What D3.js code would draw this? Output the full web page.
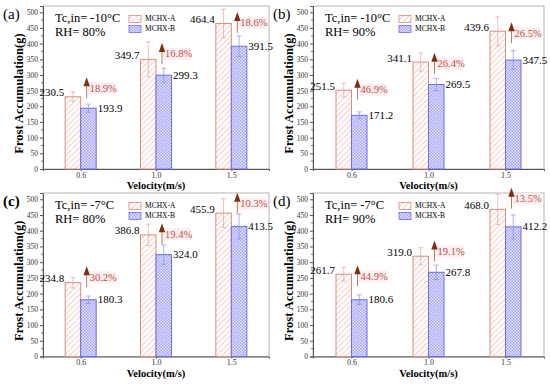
<!DOCTYPE html>
<html>
<head>
<meta charset="utf-8">
<script src="https://cdn.jsdelivr.net/npm/d3@7"></script>
<style>
  body { margin: 0; background: #fff; }
  svg text { font-family: "Liberation Serif", "Times New Roman", Times, Tinos, serif; }
</style>
</head>
<body>
<div id="chart"></div>
<script>
// data
var velocities = ["0.6", "1.0", "1.5"];
var panelTags = ["(a)", "(b)", "(c)", "(d)"];
var tcLabels = ["Tc,in= -10°C", "Tc,in= -10°C", "Tc,in= -7°C", "Tc,in= -7°C"];
var rhLabels = ["RH= 80%", "RH= 90%", "RH= 80%", "RH= 90%"];
var seriesNames = ["MCHX-A", "MCHX-B"];

var frostA = [[230.5, 349.7, 464.4], [251.5, 341.1, 439.6], [234.8, 386.8, 455.9], [261.7, 319.0, 468.0]];
var frostB = [[193.9, 299.3, 391.5], [171.2, 269.5, 347.5], [180.3, 324.0, 413.5], [180.6, 267.8, 412.2]];
var errA = [[15, 56, 45], [22, 29, 46], [17, 34, 46], [22, 27, 48]];
var errB = [[13, 22, 33], [11, 20, 30], [12, 31, 39], [15, 23, 38]];
var increase = [["18.9%", "16.8%", "18.6%"], ["46.9%", "26.4%", "26.5%"], ["30.2%", "19.4%", "10.3%"], ["44.9%", "19.1%", "13.5%"]];
// arrow centre, in grams
var arrowMid = [[258, 367, 466], [253, 336, 433], [252, 389, 486], [255, 334, 502]];
var yTicks = d3.range(0, 501, 50);

var svgWidth = 550;
var svgHeight = 387;

var panels = [
  {x0: 43, x1: 269, y0: 6, y1: 169},
  {x0: 313, x1: 544, y0: 6, y1: 169},
  {x0: 43, x1: 269, y0: 193, y1: 356.5},
  {x0: 313, x1: 544, y0: 193, y1: 356.5}
];

var colA = "#d98c80", colB = "#6b6bf0";
var barW = 15.5;
var serif = '"Liberation Serif", "Times New Roman", Times, Tinos, serif';

var svg = d3.select("#chart")
  .append("svg")
  .attr("width", svgWidth)
  .attr("height", svgHeight)
  .attr("font-family", serif);

// hatch patterns
var defs = svg.append("defs");
var pA = defs.append("pattern")
  .attr("id", "hatchA")
  .attr("patternUnits", "userSpaceOnUse")
  .attr("width", 4).attr("height", 4)
  .attr("patternTransform", "rotate(45)");
pA.append("rect").attr("width", 4).attr("height", 4).attr("fill", "#fff");
pA.append("line").attr("x1", 0).attr("y1", 0).attr("x2", 0).attr("y2", 4)
  .attr("stroke", "#f4b2aa").attr("stroke-width", 1.3);

var pB = defs.append("pattern")
  .attr("id", "hatchB")
  .attr("patternUnits", "userSpaceOnUse")
  .attr("width", 3).attr("height", 3);
pB.append("rect").attr("width", 3).attr("height", 3).attr("fill", "#e6e6ff");
pB.append("rect").attr("width", 1.5).attr("height", 1.5).attr("fill", "#a2a2f6");
pB.append("rect").attr("x", 1.5).attr("y", 1.5).attr("width", 1.5).attr("height", 1.5).attr("fill", "#a2a2f6");

panels.forEach(function(p, i) {
  var g = svg.append("g");

  var x = d3.scalePoint()
    .domain(velocities)
    .range([p.x0, p.x1])
    .padding(0.5);

  var y = d3.scaleLinear()
    .domain([0, 520])
    .range([p.y1, p.y0]);

  // frame
  g.append("rect")
    .attr("x", p.x0).attr("y", p.y0)
    .attr("width", p.x1 - p.x0).attr("height", p.y1 - p.y0)
    .attr("fill", "none").attr("stroke", "#a0a0a0").attr("stroke-width", 0.8);

  // axes
  var leftAxis = d3.axisLeft(y).tickValues(yTicks).tickSize(3).tickPadding(2);
  var yAxis = g.append("g")
    .attr("transform", `translate(${p.x0},0)`)
    .call(leftAxis)
    .attr("font-family", serif);
  yAxis.selectAll("text").style("font-size", "7.5px").attr("fill", "#333");
  yAxis.select(".domain").attr("stroke", "#555");
  yAxis.selectAll(".tick line").attr("stroke", "#555");

  // minor ticks
  g.append("g").selectAll("line")
    .data(d3.range(25, 501, 50))
    .enter().append("line")
    .attr("x1", p.x0 - 2).attr("x2", p.x0)
    .attr("y1", d => y(d)).attr("y2", d => y(d))
    .attr("stroke", "#555").attr("stroke-width", 0.8);

  var bottomAxis = d3.axisBottom(x).tickSize(2).tickPadding(1);
  var xAxis = g.append("g")
    .attr("transform", `translate(0,${p.y1})`)
    .call(bottomAxis)
    .attr("font-family", serif);
  xAxis.selectAll("text").style("font-size", "8px").attr("fill", "#333");
  xAxis.select(".domain").attr("stroke", "#555");
  xAxis.selectAll(".tick line").attr("stroke", "#555");

  // bars
  var rowsA = velocities.map((v, k) => ({v: v, val: frostA[i][k], err: errA[i][k]}));
  var rowsB = velocities.map((v, k) => ({v: v, val: frostB[i][k], err: errB[i][k]}));

  g.selectAll(".barA").data(rowsA).enter().append("rect")
    .attr("x", d => x(d.v) - barW)
    .attr("y", d => y(d.val))
    .attr("width", barW)
    .attr("height", d => y(0) - y(d.val))
    .attr("fill", "url(#hatchA)")
    .attr("stroke", colA).attr("stroke-width", 1);

  g.selectAll(".barB").data(rowsB).enter().append("rect")
    .attr("x", d => x(d.v))
    .attr("y", d => y(d.val))
    .attr("width", barW)
    .attr("height", d => y(0) - y(d.val))
    .attr("fill", "url(#hatchB)")
    .attr("stroke", colB).attr("stroke-width", 1);

  // error bars
  [[rowsA, -barW / 2, "#e0a79e"], [rowsB, barW / 2, "#8c8cf2"]].forEach(function(s) {
    var eg = g.append("g").attr("stroke", s[2]).attr("stroke-width", 0.7);
    s[0].forEach(function(d) {
      var cx = x(d.v) + s[1];
      eg.append("line").attr("x1", cx).attr("x2", cx)
        .attr("y1", y(d.val - d.err)).attr("y2", y(d.val + d.err));
      eg.append("line").attr("x1", cx - 2.5).attr("x2", cx + 2.5)
        .attr("y1", y(d.val + d.err)).attr("y2", y(d.val + d.err));
      eg.append("line").attr("x1", cx - 2.5).attr("x2", cx + 2.5)
        .attr("y1", y(d.val - d.err)).attr("y2", y(d.val - d.err));
    });
  });

  // value labels
  g.selectAll(".labA").data(rowsA).enter().append("text")
    .attr("x", d => x(d.v) - barW - 1)
    .attr("y", d => y(d.val) - 3)
    .attr("text-anchor", "end")
    .attr("dominant-baseline", "middle")
    .style("font-size", "11px")
    .text(d => d.val.toFixed(1));

  g.selectAll(".labB").data(rowsB).enter().append("text")
    .attr("x", d => x(d.v) + barW + 1.5)
    .attr("y", d => y(d.val) + 1)
    .attr("dominant-baseline", "middle")
    .style("font-size", "11px")
    .text(d => d.val.toFixed(1));

  // increase arrows and percentages
  velocities.forEach(function(v, k) {
    var ax = x(v) + 6;
    var ym = y(arrowMid[i][k]);
    g.append("rect")
      .attr("x", ax + 1).attr("y", ym - 6)
      .attr("width", 28).attr("height", 12)
      .attr("fill", "#feeef3");
    g.append("line")
      .attr("x1", ax).attr("x2", ax)
      .attr("y1", ym + 10).attr("y2", ym - 4)
      .attr("stroke", "#c27a5e").attr("stroke-width", 1);
    g.append("path")
      .attr("d", `M${ax - 3.2},${ym - 2} L${ax},${ym - 11} L${ax + 3.2},${ym - 2} Z`)
      .attr("fill", "#7d2f12");
    g.append("text")
      .attr("x", ax + 3).attr("y", ym + 1)
      .attr("dominant-baseline", "middle")
      .style("font-size", "10.5px")
      .attr("fill", "#b8523a")
      .text(increase[i][k]);
  });

  // legend
  [["url(#hatchA)", colA], ["url(#hatchB)", colB]].forEach(function(c, k) {
    var ly = p.y0 + 13 + k * 10;
    g.append("rect")
      .attr("x", p.x0 + 86).attr("y", ly - 3.5)
      .attr("width", 12).attr("height", 7)
      .attr("fill", c[0]).attr("stroke", c[1]).attr("stroke-width", 0.8);
    g.append("text")
      .attr("x", p.x0 + 102).attr("y", ly)
      .attr("dominant-baseline", "middle")
      .style("font-size", "7.5px")
      .text(seriesNames[k]);
  });

  // condition text
  g.append("text")
    .attr("x", p.x0 + 12).attr("y", p.y0 + 13)
    .attr("dominant-baseline", "middle")
    .style("font-size", "12.5px")
    .text(tcLabels[i]);
  g.append("text")
    .attr("x", p.x0 + 12).attr("y", p.y0 + 27)
    .attr("dominant-baseline", "middle")
    .style("font-size", "12.5px")
    .text(rhLabels[i]);

  // panel tag
  g.append("text")
    .attr("x", p.x0 - 40).attr("y", p.y0 + 10)
    .attr("dominant-baseline", "middle")
    .style("font-size", "15px")
    .style("font-weight", i === 2 ? "bold" : "normal")
    .text(panelTags[i]);

  // axis titles
  g.append("text")
    .attr("transform", `translate(${p.x0 - 23},${(p.y0 + p.y1) / 2 + 6}) rotate(-90)`)
    .attr("text-anchor", "middle")
    .attr("dominant-baseline", "middle")
    .style("font-size", "12.5px")
    .style("font-weight", "bold")
    .text("Frost Accumulation(g)");

  g.append("text")
    .attr("x", (p.x0 + p.x1) / 2).attr("y", p.y1 + 18)
    .attr("text-anchor", "middle")
    .attr("dominant-baseline", "middle")
    .style("font-size", "10.5px")
    .style("font-weight", "bold")
    .text("Velocity(m/s)");
});
</script>
</body>
</html>
